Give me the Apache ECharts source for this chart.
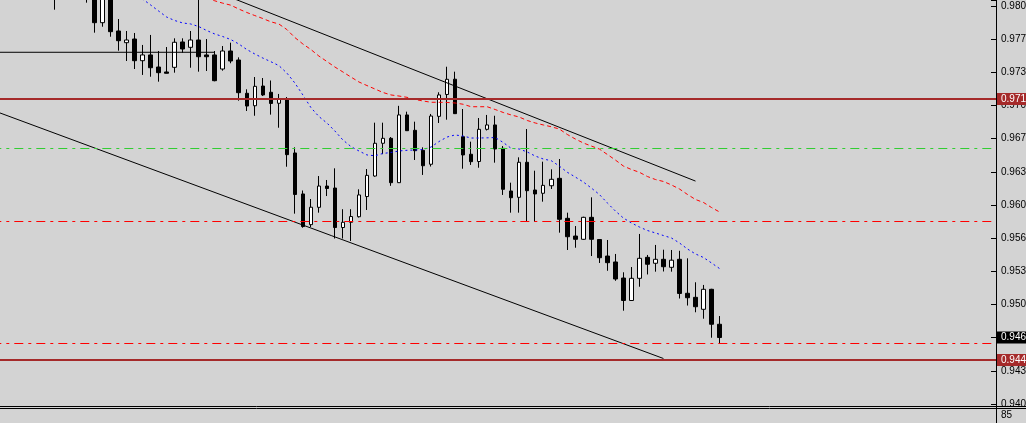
<!DOCTYPE html>
<html><head><meta charset="utf-8">
<script src="https://cdn.jsdelivr.net/npm/echarts@6/dist/echarts.min.js"></script>
<style>html,body{margin:0;padding:0;background:#d3d3d3;overflow:hidden}#c{width:1026px;height:423px}</style>
</head><body><div id="c"></div>
<script>
// ---- data ----
const LEAD = 4;            // empty bar slots before the first candle
const BAR_SLOTS = 128;     // total bar slots on the time axis (incl. right shift)
const categories = Array.from({length: BAR_SLOTS}, (_, i) => 'bar ' + (i - LEAD));

const opens = [0.98390,0.98352,0.98371,0.98318,0.98276,0.98301,0.98245,0.98190,0.98226,0.98180,
0.98205,0.98160,0.97871,0.98120,0.97787,0.97669,0.97706,0.97487,0.97545,0.97423,
0.97373,0.97420,0.97676,0.97622,0.97696,0.97545,0.97545,0.97403,0.97585,0.97494,
0.97158,0.97032,0.97231,0.97168,0.97057,0.97100,0.96555,0.96141,0.95831,0.96006,
0.96221,0.96201,0.95802,0.95855,0.95911,0.96115,0.96322,0.96653,0.96703,0.96255,
0.96939,0.96784,0.96582,0.96441,0.96925,0.97146,0.97300,0.96719,0.96542,0.96469,
0.96794,0.96838,0.96602,0.96171,0.96107,0.96461,0.96181,0.96148,0.96224,0.96299,
0.95895,0.95716,0.95683,0.95905,0.95681,0.95514,0.95454,0.95292,0.95065,0.95289,
0.95501,0.95441,0.95481,0.95400,0.95481,0.95138,0.95097,0.94976,0.95178,0.94825];
const closes = [0.98352,0.98371,0.98318,0.98276,0.98301,0.98245,0.98190,0.98226,0.98180,0.98205,
0.98160,0.97871,0.98120,0.97780,0.97689,0.97696,0.97487,0.97545,0.97416,0.97366,
0.97360,0.97673,0.97605,0.97696,0.97527,0.97527,0.97285,0.97585,0.97484,0.97164,
0.97029,0.97228,0.97141,0.97055,0.97098,0.96538,0.96136,0.95812,0.96007,0.96221,
0.96196,0.95802,0.95855,0.95913,0.96131,0.96329,0.96653,0.96703,0.96255,0.96939,
0.96780,0.96578,0.96426,0.96928,0.97141,0.97299,0.96952,0.96535,0.96467,0.96794,
0.96838,0.96595,0.96188,0.96103,0.96461,0.96174,0.96141,0.96228,0.96289,0.95885,
0.95709,0.95683,0.95905,0.95683,0.95497,0.95447,0.95282,0.95065,0.95289,0.95491,
0.95431,0.95481,0.95406,0.95472,0.95136,0.95093,0.95002,0.95178,0.94825,0.94691];
const lows = [0.98320,0.98330,0.98290,0.98248,0.98255,0.98220,0.98002,0.98150,0.98140,0.98160,
0.98073,0.97770,0.97830,0.97729,0.97588,0.97484,0.97403,0.97343,0.97325,0.97275,
0.97358,0.97366,0.97568,0.97416,0.97376,0.97383,0.97279,0.97386,0.97461,0.97083,
0.96979,0.96931,0.97130,0.96942,0.96810,0.96416,0.95942,0.95800,0.95807,0.95952,
0.96120,0.95691,0.95691,0.95666,0.95903,0.95979,0.96315,0.96543,0.96223,0.96252,
0.96777,0.96484,0.96333,0.96418,0.96858,0.96891,0.96949,0.96396,0.96434,0.96406,
0.96782,0.96457,0.96131,0.95952,0.95952,0.95861,0.95861,0.96063,0.96191,0.95750,
0.95575,0.95598,0.95678,0.95514,0.95444,0.95365,0.95264,0.94962,0.95060,0.95204,
0.95328,0.95356,0.95358,0.95356,0.95085,0.95014,0.94946,0.94881,0.94689,0.94633];
const highs = [0.98415,0.98398,0.98385,0.98332,0.98330,0.98312,0.98266,0.98240,0.98250,0.98228,
0.98220,0.98175,0.98140,0.98135,0.97908,0.97787,0.97767,0.97646,0.97747,0.97585,
0.97625,0.97713,0.97713,0.97787,0.98150,0.97706,0.97585,0.97635,0.97669,0.97521,
0.97198,0.97322,0.97312,0.97287,0.97151,0.97120,0.96612,0.96176,0.96090,0.96322,
0.96282,0.96400,0.95987,0.95987,0.96188,0.96393,0.96861,0.96861,0.96716,0.97031,
0.96972,0.96871,0.96612,0.96949,0.97168,0.97426,0.97376,0.96999,0.96669,0.96908,
0.96939,0.96931,0.96625,0.96255,0.96511,0.96797,0.96376,0.96467,0.96390,0.96494,
0.95952,0.95817,0.95911,0.96107,0.95683,0.95676,0.95535,0.95350,0.95403,0.95737,
0.95525,0.95626,0.95578,0.95575,0.95567,0.95491,0.95249,0.95222,0.95183,0.94908];

// fast (blue dotted) moving average, starting at candle 16
const fastMAStart = 16;
const fastMA = [0.98181,0.98110,0.98050,0.97989,0.97928,0.97893,0.97868,0.97858,0.97832,0.97792,
0.97757,0.97731,0.97701,0.97656,0.97600,0.97555,0.97514,0.97477,0.97438,0.97363,
0.97262,0.97141,0.97014,0.96923,0.96858,0.96777,0.96686,0.96620,0.96575,0.96535,
0.96527,0.96550,0.96560,0.96575,0.96582,0.96585,0.96590,0.96615,0.96671,0.96716,
0.96737,0.96726,0.96706,0.96706,0.96708,0.96711,0.96661,0.96602,0.96595,0.96565,
0.96524,0.96494,0.96477,0.96423,0.96360,0.96312,0.96262,0.96201,0.96136,0.96050,
0.95969,0.95898,0.95848,0.95807,0.95772,0.95747,0.95721,0.95696,0.95646,0.95585,
0.95535,0.95499,0.95444,0.95388];
// slow (red dashed) moving average, starting at candle 25
const slowMAStart = 25;
const slowMA = [0.98120,0.98092,0.98068,0.98048,0.98009,0.97974,0.97943,0.97913,0.97880,0.97858,
0.97802,0.97721,0.97656,0.97600,0.97534,0.97479,0.97423,0.97373,0.97322,0.97272,
0.97236,0.97201,0.97166,0.97141,0.97130,0.97117,0.97095,0.97080,0.97067,0.97067,
0.97065,0.97060,0.97047,0.97022,0.97022,0.97022,0.96994,0.96964,0.96939,0.96918,
0.96883,0.96858,0.96838,0.96820,0.96797,0.96742,0.96696,0.96656,0.96625,0.96595,
0.96540,0.96484,0.96423,0.96388,0.96360,0.96317,0.96287,0.96267,0.96232,0.96191,
0.96136,0.96085,0.96055,0.96004,0.95959];

// drawn objects (bar index, price)
const upperTrendBars = [20, 86],  upperTrendPrices = [0.98382, 0.96271];
const lowerTrendBars = [-4, 82],  lowerTrendPrices = [0.97055, 0.94479];
const shortLineBars  = [-4, 26],  shortLinePrices  = [0.97572, 0.97572];

const resistanceLevel = 0.97100;   // brown solid
const greenLevel      = 0.96605;   // green dash-dot
const redDashLevels   = [0.95868, 0.94633];
const supportLevel    = 0.94464;   // brown solid
const bidPrice        = 0.94691;

// price scale
const priceMin = 0.94020, priceMax = 0.98100, priceStep = 0.00335;
const indicatorLabel = '85';

// ---- chart ----
const chart = echarts.init(document.getElementById('c'), null, {renderer: 'canvas'});
const candleData = opens.map((o, i) => [i + LEAD, o, closes[i], lows[i], highs[i]]);
const fastData = fastMA.map((v, i) => [fastMAStart + i + LEAD, v]);
const slowData = slowMA.map((v, i) => [slowMAStart + i + LEAD, v]);
const seg = (bars, prices) => bars.map((b, i) => [b + LEAD, prices[i]]);
const BROWN = '#a52a2a', DASHDOT = [9, 5, 3, 5];
const FONT = 'Liberation Sans';
const FS = 10;
const boxLabel = (bg, txt) => ({
  show: true, position: 'end', distance: 1, formatter: txt,
  backgroundColor: bg, color: '#fff', fontSize: FS, fontFamily: FONT,
  padding: [1, 4, 1, 4], lineHeight: 10, opacity: 1
});

chart.setOption({
  animation: false,
  backgroundColor: '#d3d3d3',
  grid: {left: -29.7, right: 30, top: 0, height: 403.96, outerBoundsMode: 'none', containLabel: false},
  xAxis: {type: 'category', data: categories, boundaryGap: true, show: false},
  yAxis: {
    type: 'value', position: 'right', min: priceMin, max: priceMax, interval: priceStep,
    scale: true,
    axisLine: {show: true, lineStyle: {color: '#000', width: 1}},
    axisTick: {show: true, inside: true, length: 5, lineStyle: {color: '#000'}},
    axisLabel: {margin: 5, color: '#000', fontSize: FS, fontFamily: FONT,
      formatter: v => v > priceMax - 0.0003 ? '' : v.toFixed(5)},
    splitLine: {show: false}
  },
  series: [
    {
      type: 'candlestick', z: 2, clip: true, barWidth: 4,
      encode: {x: 0, y: [1, 2, 3, 4]},
      data: candleData,
      itemStyle: {color: '#ffffff', color0: '#000000', borderColor: '#000000',
        borderColor0: '#000000', borderColorDoji: '#000000', borderWidth: 1}
    },
    {type: 'line', z: 3, data: fastData, symbol: 'none', clip: true,
      lineStyle: {color: '#0000ff', width: 1, type: [2, 3]}},
    {type: 'line', z: 3, data: slowData, symbol: 'none', clip: true,
      lineStyle: {color: '#ff0000', width: 1, type: [4, 3]}},
    {type: 'line', z: 4, data: seg(upperTrendBars, upperTrendPrices), symbol: 'none', clip: true,
      lineStyle: {color: '#000', width: 1}},
    {type: 'line', z: 4, data: seg(lowerTrendBars, lowerTrendPrices), symbol: 'none', clip: true,
      lineStyle: {color: '#000', width: 1}},
    {type: 'line', z: 4, data: seg(shortLineBars, shortLinePrices), symbol: 'none', clip: true,
      lineStyle: {color: '#000', width: 1},
      markLine: {
        silent: true, symbol: 'none', animation: false, precision: 5,
        data: [
          {yAxis: resistanceLevel, lineStyle: {color: BROWN, width: 2, type: 'solid'},
            label: boxLabel(BROWN, resistanceLevel.toFixed(5))},
          {yAxis: greenLevel, lineStyle: {color: '#32cd32', width: 1, type: DASHDOT}, label: {show: false}},
          ...redDashLevels.map(p => ({yAxis: p, lineStyle: {color: '#ff0000', width: 1, type: DASHDOT}, label: {show: false}})),
          {yAxis: supportLevel, lineStyle: {color: BROWN, width: 2, type: 'solid'},
            label: boxLabel(BROWN, supportLevel.toFixed(5))},
          {yAxis: bidPrice, lineStyle: {color: 'rgba(0,0,0,0)', width: 1, type: 'solid'},
            label: boxLabel('#000000', bidPrice.toFixed(5))}
        ]
      }
    }
  ],
  graphic: [
    {type: 'line', shape: {x1: 0, y1: 406.5, x2: 1026, y2: 406.5}, style: {stroke: '#000', lineWidth: 1}, silent: true},
    {type: 'line', shape: {x1: 0, y1: 408.5, x2: 1026, y2: 408.5}, style: {stroke: '#000', lineWidth: 1}, silent: true},
    {type: 'line', shape: {x1: 996.5, y1: 404, x2: 996.5, y2: 423}, style: {stroke: '#000', lineWidth: 1}, silent: true},
    {type: 'text', x: 1001, y: 415, style: {text: indicatorLabel, fill: '#000', fontSize: FS, fontFamily: FONT, verticalAlign: 'middle'}, silent: true}
  ]
});
</script></body></html>
